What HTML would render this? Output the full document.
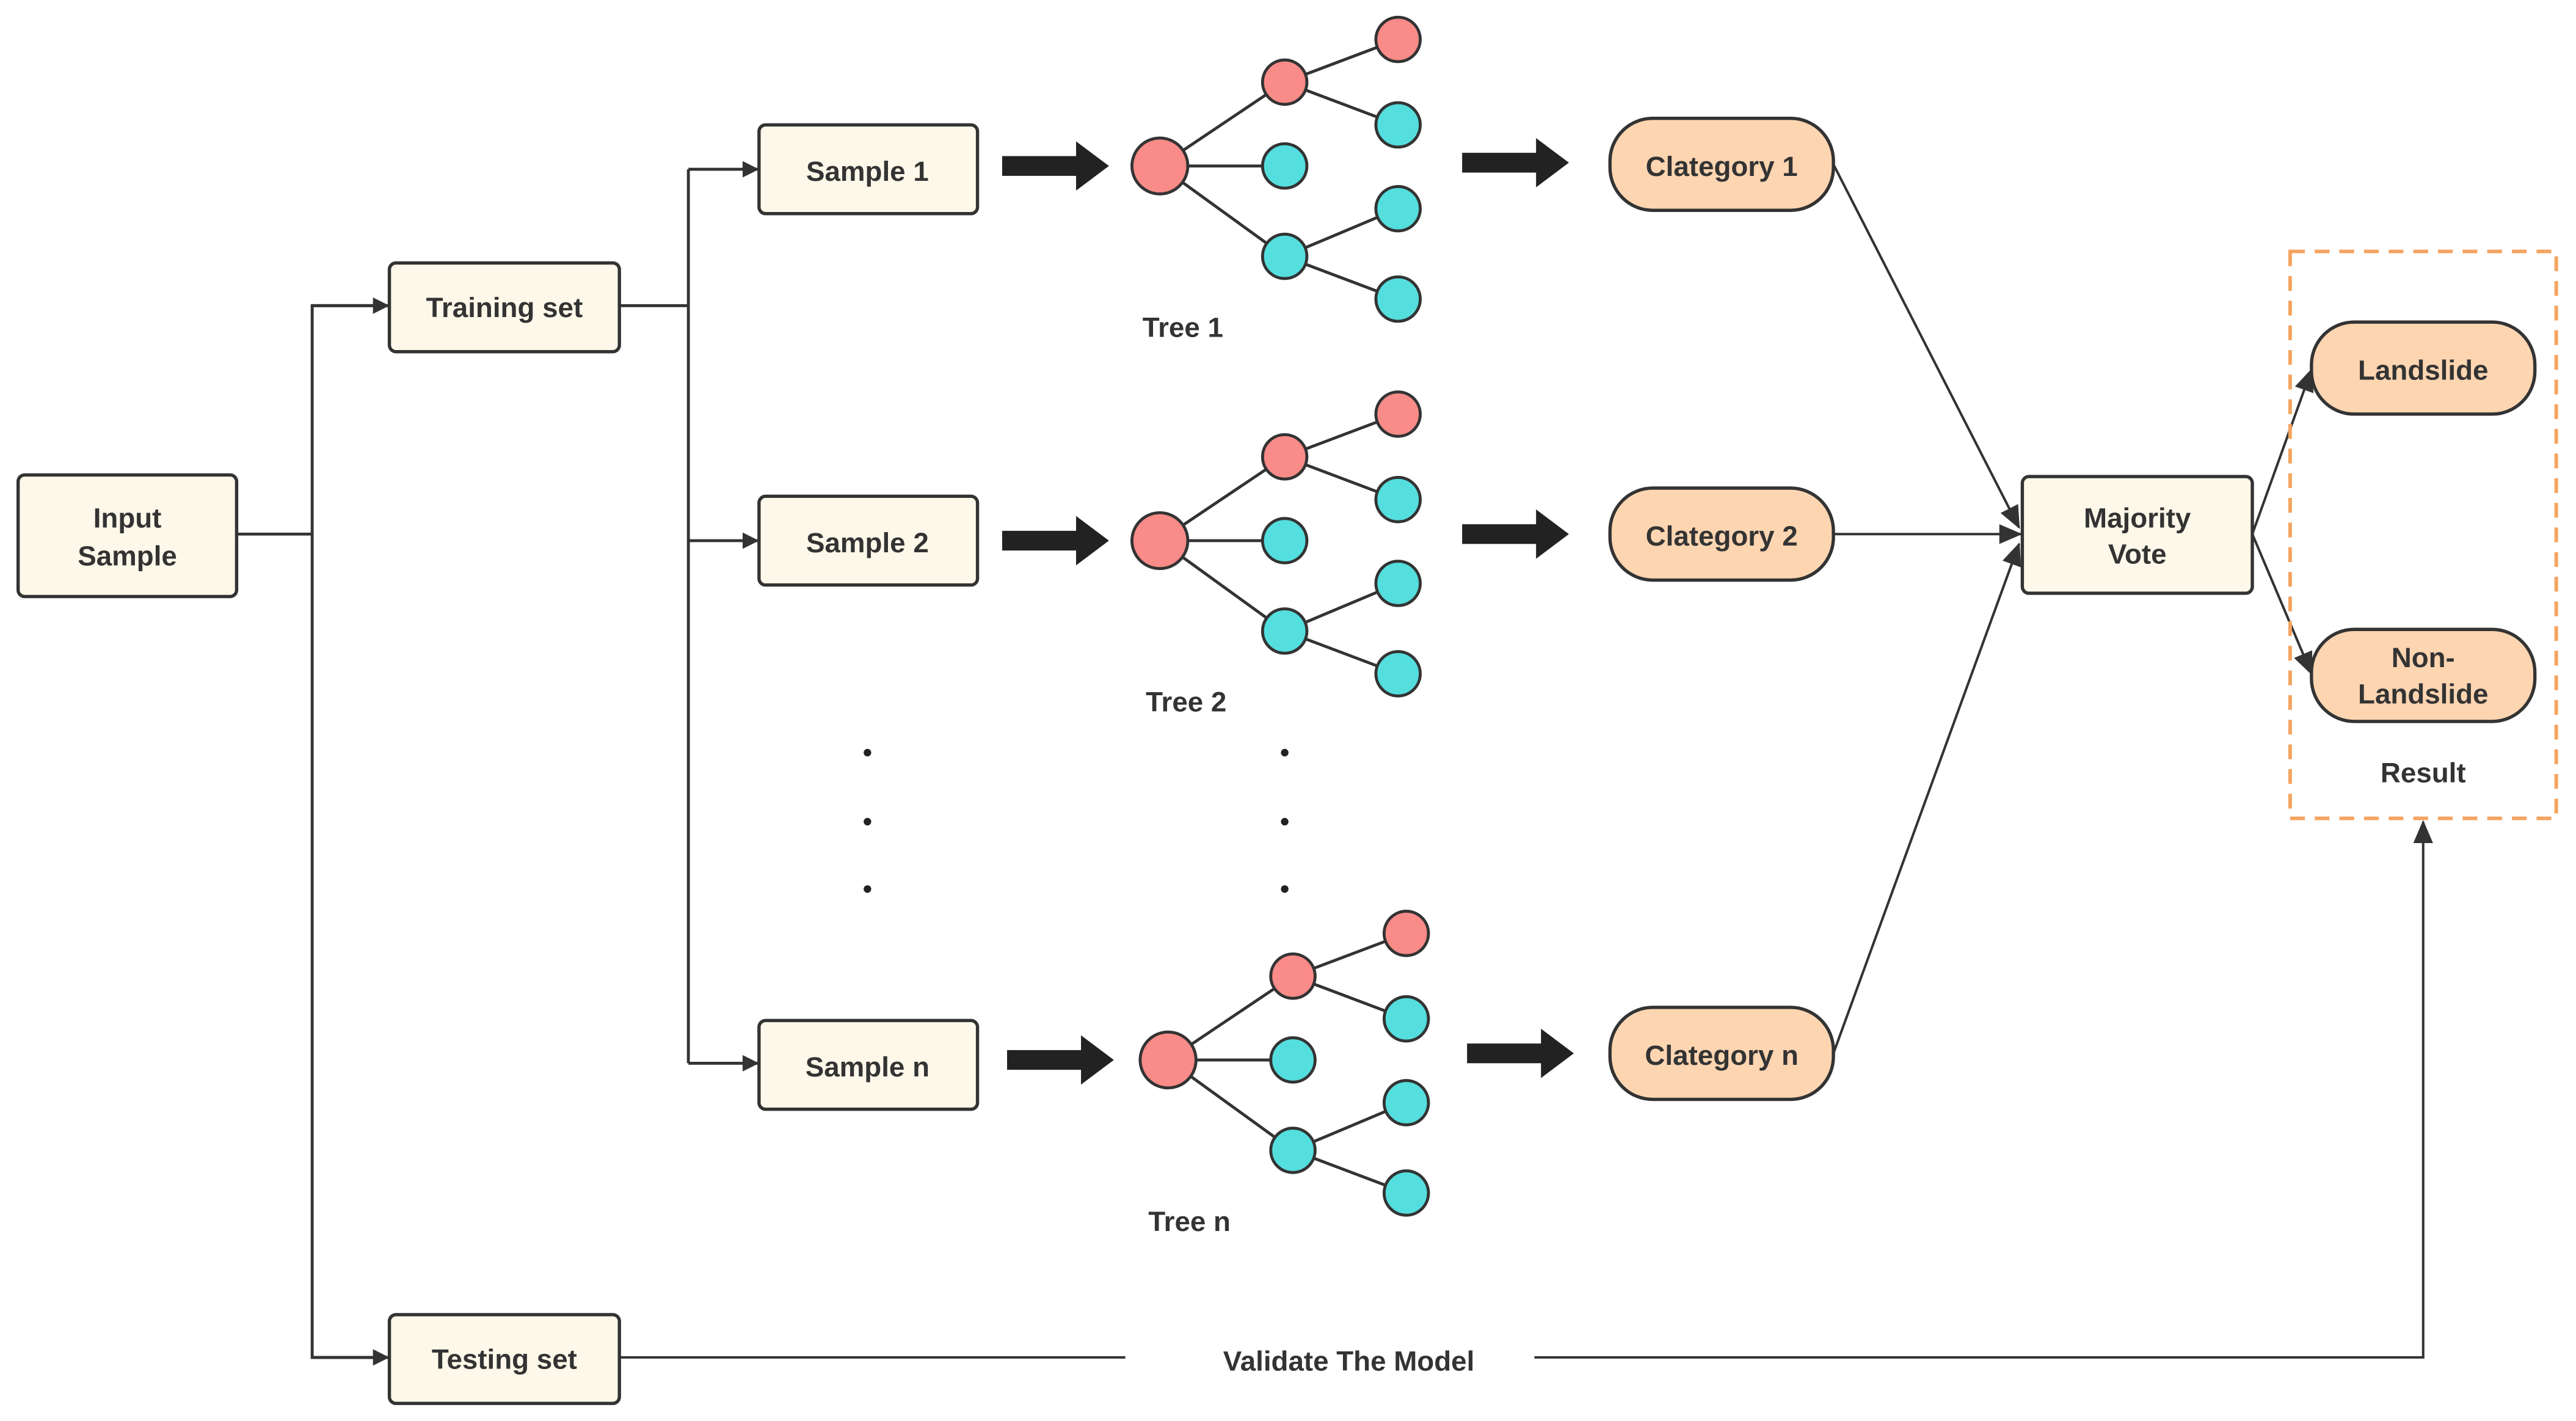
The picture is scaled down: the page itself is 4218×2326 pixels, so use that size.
<!DOCTYPE html>
<html><head><meta charset="utf-8">
<style>
html,body{margin:0;padding:0;background:#fff;}
svg{display:block;}
text{font-family:"Liberation Sans",sans-serif;font-weight:bold;fill:#333;}
</style></head>
<body>
<svg width="4218" height="2326" viewBox="0 0 1568 864.7" xmlns="http://www.w3.org/2000/svg">
<defs>
<marker id="ar" markerWidth="10" markerHeight="10" refX="9" refY="5" orient="auto" markerUnits="userSpaceOnUse">
<path d="M0,0 L10,5 L0,10 z" fill="#333"/>
</marker>
<marker id="ar2" markerWidth="14" markerHeight="12" refX="13" refY="6" orient="auto" markerUnits="userSpaceOnUse">
<path d="M0,0 L14,6 L0,12 z" fill="#333"/>
</marker>
</defs>
<rect width="1568" height="864.7" fill="#fff"/>
<g stroke="#333" stroke-width="1.8" fill="none">
<polyline points="144,325 190,325"/>
<polyline points="237,186 190,186 190,826 237,826" />
<line x1="190" y1="186" x2="236" y2="186" marker-end="url(#ar)"/>
<line x1="190" y1="826" x2="236" y2="826" marker-end="url(#ar)"/>
<polyline points="377,186 419,186"/>
<polyline points="419,103 419,647"/>
<line x1="419" y1="103" x2="461" y2="103" marker-end="url(#ar)"/>
<line x1="419" y1="329" x2="461" y2="329" marker-end="url(#ar)"/>
<line x1="419" y1="647" x2="461" y2="647" marker-end="url(#ar)"/>
<line x1="1116" y1="100" x2="1229" y2="321" stroke-width="1.5" marker-end="url(#ar2)"/>
<line x1="1116" y1="325" x2="1230" y2="325" stroke-width="1.5" marker-end="url(#ar2)"/>
<line x1="1116" y1="641" x2="1229" y2="331" stroke-width="1.5" marker-end="url(#ar2)"/>
<line x1="1371" y1="325" x2="1407" y2="225" stroke-width="1.5" marker-end="url(#ar2)"/>
<line x1="1371" y1="325" x2="1407" y2="410" stroke-width="1.5" marker-end="url(#ar2)"/>
<line x1="377" y1="826" x2="685" y2="826" stroke-width="1.5"/>
<polyline points="934,826 1475,826 1475,500" stroke-width="1.5" marker-end="url(#ar2)"/>
</g>
<rect x="1394" y="153" width="162" height="345" fill="none" stroke="#f4a460" stroke-width="2.2" stroke-dasharray="9,6"/>
<g fill="#fdf8e9" stroke="#333" stroke-width="2">
<rect x="11" y="289" width="133" height="74" rx="4"/>
<rect x="237" y="160" width="140" height="54" rx="4"/>
<rect x="462" y="76" width="133" height="54" rx="4"/>
<rect x="462" y="302" width="133" height="54" rx="4"/>
<rect x="462" y="621" width="133" height="54" rx="4"/>
<rect x="237" y="800" width="140" height="54" rx="4"/>
<rect x="1231" y="290" width="140" height="71" rx="4"/>
</g>
<g fill="#fdd5b1" stroke="#333" stroke-width="2">
<rect x="980" y="72" width="136" height="56" rx="26"/>
<rect x="980" y="297" width="136" height="56" rx="26"/>
<rect x="980" y="613" width="136" height="56" rx="26"/>
<rect x="1407" y="196" width="136" height="56" rx="26"/>
<rect x="1407" y="383" width="136" height="56" rx="26"/>
</g>
<g fill="#222">
<path d="M610,95 L655,95 L655,86 L675,101 L655,116 L655,107 L610,107 z"/>
<path d="M610,323 L655,323 L655,314 L675,329 L655,344 L655,335 L610,335 z"/>
<path d="M613,639 L658,639 L658,630 L678,645 L658,660 L658,651 L613,651 z"/>
<path d="M890,93 L935,93 L935,84 L955,99 L935,114 L935,105 L890,105 z"/>
<path d="M890,319 L935,319 L935,310 L955,325 L935,340 L935,331 L890,331 z"/>
<path d="M893,635 L938,635 L938,626 L958,641 L938,656 L938,647 L893,647 z"/>
<circle cx="528" cy="458" r="2.3"/><circle cx="528" cy="500" r="2.3"/><circle cx="528" cy="541" r="2.3"/>
<circle cx="782" cy="458" r="2.3"/><circle cx="782" cy="500" r="2.3"/><circle cx="782" cy="541" r="2.3"/>
</g>
<!-- trees -->
<g id="t1" stroke="#333" stroke-width="1.8">
<line x1="706" y1="101" x2="782" y2="50"/><line x1="706" y1="101" x2="782" y2="101"/><line x1="706" y1="101" x2="782" y2="156"/>
<line x1="782" y1="50" x2="851" y2="24"/><line x1="782" y1="50" x2="851" y2="76"/>
<line x1="782" y1="156" x2="851" y2="127"/><line x1="782" y1="156" x2="851" y2="182"/>
<circle cx="706" cy="101" r="17" fill="#f98b88"/>
<circle cx="782" cy="50" r="13.5" fill="#f98b88"/>
<circle cx="782" cy="101" r="13.5" fill="#55dede"/>
<circle cx="782" cy="156" r="13.5" fill="#55dede"/>
<circle cx="851" cy="24" r="13.5" fill="#f98b88"/>
<circle cx="851" cy="76" r="13.5" fill="#55dede"/>
<circle cx="851" cy="127" r="13.5" fill="#55dede"/>
<circle cx="851" cy="182" r="13.5" fill="#55dede"/>
</g>
<g stroke="#333" stroke-width="1.8" transform="translate(0,228)">
<line x1="706" y1="101" x2="782" y2="50"/><line x1="706" y1="101" x2="782" y2="101"/><line x1="706" y1="101" x2="782" y2="156"/>
<line x1="782" y1="50" x2="851" y2="24"/><line x1="782" y1="50" x2="851" y2="76"/>
<line x1="782" y1="156" x2="851" y2="127"/><line x1="782" y1="156" x2="851" y2="182"/>
<circle cx="706" cy="101" r="17" fill="#f98b88"/>
<circle cx="782" cy="50" r="13.5" fill="#f98b88"/>
<circle cx="782" cy="101" r="13.5" fill="#55dede"/>
<circle cx="782" cy="156" r="13.5" fill="#55dede"/>
<circle cx="851" cy="24" r="13.5" fill="#f98b88"/>
<circle cx="851" cy="76" r="13.5" fill="#55dede"/>
<circle cx="851" cy="127" r="13.5" fill="#55dede"/>
<circle cx="851" cy="182" r="13.5" fill="#55dede"/>
</g>
<g stroke="#333" stroke-width="1.8" transform="translate(5,544)">
<line x1="706" y1="101" x2="782" y2="50"/><line x1="706" y1="101" x2="782" y2="101"/><line x1="706" y1="101" x2="782" y2="156"/>
<line x1="782" y1="50" x2="851" y2="24"/><line x1="782" y1="50" x2="851" y2="76"/>
<line x1="782" y1="156" x2="851" y2="127"/><line x1="782" y1="156" x2="851" y2="182"/>
<circle cx="706" cy="101" r="17" fill="#f98b88"/>
<circle cx="782" cy="50" r="13.5" fill="#f98b88"/>
<circle cx="782" cy="101" r="13.5" fill="#55dede"/>
<circle cx="782" cy="156" r="13.5" fill="#55dede"/>
<circle cx="851" cy="24" r="13.5" fill="#f98b88"/>
<circle cx="851" cy="76" r="13.5" fill="#55dede"/>
<circle cx="851" cy="127" r="13.5" fill="#55dede"/>
<circle cx="851" cy="182" r="13.5" fill="#55dede"/>
</g>
<g font-size="17" text-anchor="middle">
<text x="77.5" y="321">Input</text>
<text x="77.5" y="344">Sample</text>
<text x="307" y="193">Training set</text>
<text x="528" y="110">Sample 1</text>
<text x="528" y="336">Sample 2</text>
<text x="528" y="655">Sample n</text>
<text x="307" y="833">Testing set</text>
<text x="1048" y="107">Clategory 1</text>
<text x="1048" y="332">Clategory 2</text>
<text x="1048" y="648">Clategory n</text>
<text x="1301" y="321">Majority</text>
<text x="1301" y="343">Vote</text>
<text x="1475" y="231">Landslide</text>
<text x="1475" y="406">Non-</text>
<text x="1475" y="428">Landslide</text>
<text x="1475" y="476">Result</text>
<text x="720" y="205">Tree 1</text>
<text x="722" y="433">Tree 2</text>
<text x="724" y="749">Tree n</text>
<text x="821" y="834">Validate The Model</text>
</g>
</svg>
</body></html>
